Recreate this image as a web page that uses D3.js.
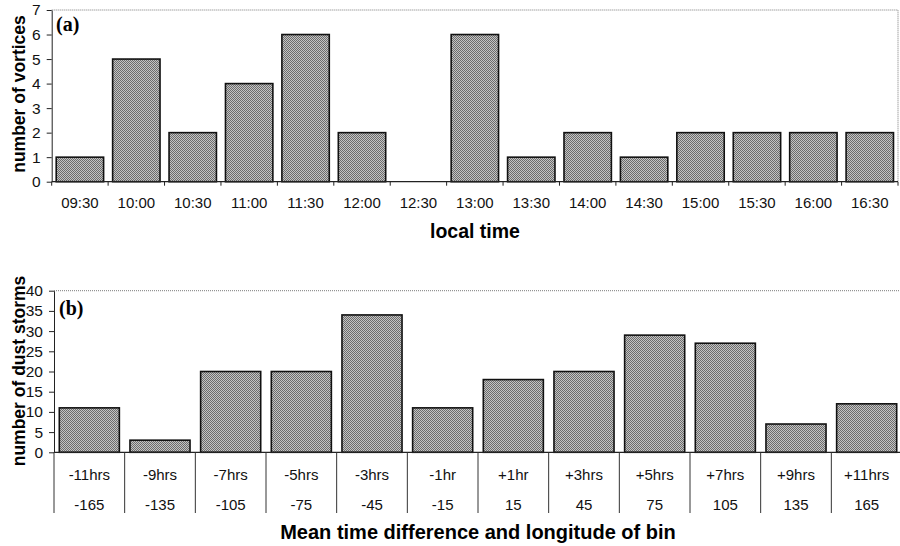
<!DOCTYPE html>
<html>
<head>
<meta charset="utf-8">
<script src="https://cdn.jsdelivr.net/npm/d3@7"></script>
<style>
  body { margin: 0; background: #ffffff; }
  svg { display: block; }
</style>
</head>
<body>
<svg id="chart"></svg>
<script>
// Panel (a) data
const timeLabels = ["09:30", "10:00", "10:30", "11:00", "11:30", "12:00", "12:30", "13:00",
                    "13:30", "14:00", "14:30", "15:00", "15:30", "16:00", "16:30"];
const vortexCounts = [1, 5, 2, 4, 6, 2, 0, 6, 1, 2, 1, 2, 2, 2, 2];
const vortexTicks = [0, 1, 2, 3, 4, 5, 6, 7];

// Panel (b) data
const hourLabels = ["-11hrs", "-9hrs", "-7hrs", "-5hrs", "-3hrs", "-1hr",
                    "+1hr", "+3hrs", "+5hrs", "+7hrs", "+9hrs", "+11hrs"];
const lonLabels = ["-165", "-135", "-105", "-75", "-45", "-15", "15", "45", "75", "105", "135", "165"];
const stormCounts = [11, 3, 20, 20, 34, 11, 18, 20, 29, 27, 7, 12];
const stormTicks = [0, 5, 10, 15, 20, 25, 30, 35, 40];

const W = 900, H = 546;
const sans = "'Liberation Sans', Arial, sans-serif";
const serif = "'Liberation Serif', 'Times New Roman', serif";

const svg = d3.select("#chart")
  .attr("width", W)
  .attr("height", H);

// halftone-ish grey fill like the scanned bars
const defs = svg.append("defs");
const pat = defs.append("pattern")
  .attr("id", "dither")
  .attr("patternUnits", "userSpaceOnUse")
  .attr("width", 2)
  .attr("height", 2);
pat.append("rect").attr("width", 2).attr("height", 2).attr("fill", "#c4c4c4");
pat.append("rect").attr("x", 0).attr("y", 0).attr("width", 1).attr("height", 1).attr("fill", "#6c6c6c");
pat.append("rect").attr("x", 1).attr("y", 1).attr("width", 1).attr("height", 1).attr("fill", "#6c6c6c");

function drawPanel(opt) {
  const x = d3.scaleBand()
    .domain(opt.labels)
    .range([opt.left, opt.right])
    .paddingInner(opt.pad)
    .paddingOuter(opt.pad / 2);

  const y = d3.scaleLinear()
    .domain([0, opt.max])
    .range([opt.bottom, opt.top]);

  const g = svg.append("g");

  // plot area border (top + right), dotted grey
  g.append("path")
    .attr("d", `M${opt.left},${opt.top}H${opt.right}V${opt.bottom}`)
    .attr("fill", "none")
    .attr("stroke", "#7a7a7a")
    .attr("stroke-width", 1)
    .attr("stroke-dasharray", "1,1");

  // bars
  g.selectAll(".bar")
    .data(opt.values)
    .join("rect")
      .attr("class", "bar")
      .attr("x", (d, i) => x(opt.labels[i]))
      .attr("width", x.bandwidth())
      .attr("y", d => y(d))
      .attr("height", d => y(0) - y(d))
      .attr("fill", "url(#dither)")
      .attr("stroke", d => d > 0 ? "#111" : "none")
      .attr("stroke-width", 1.6);

  // y axis
  const yAxis = g.append("g")
    .attr("transform", `translate(${opt.left},0)`)
    .call(d3.axisLeft(y)
      .tickValues(opt.ticks)
      .tickFormat(d3.format("d"))
      .tickSize(5).tickPadding(6).tickSizeOuter(0));
  yAxis.select(".domain").attr("stroke", "#222");
  yAxis.selectAll("line").attr("stroke", "#222");
  yAxis.selectAll("text")
    .attr("font-family", sans)
    .attr("font-size", 15.5)
    .attr("fill", "#111");

  // x axis baseline
  g.append("line")
    .attr("x1", opt.left).attr("x2", opt.right)
    .attr("y1", y(0)).attr("y2", y(0))
    .attr("stroke", "#222")
    .attr("stroke-width", 1.2);

  const half = x.step() * x.paddingInner() / 2;
  const bounds = opt.labels.map(d => x(d) - half).concat([opt.right]);

  return { g, x, y, bounds };
}

// ---------- panel (a)
const a = drawPanel({
  labels: timeLabels, values: vortexCounts, ticks: vortexTicks, max: 7,
  left: 51.7, right: 898, top: 10, bottom: 181.7, pad: 0.16
});

a.g.selectAll(".xtick")
  .data(a.bounds)
  .join("line")
    .attr("class", "xtick")
    .attr("x1", d => d).attr("x2", d => d)
    .attr("y1", a.y(0)).attr("y2", a.y(0) + 4)
    .attr("stroke", "#222");

a.g.selectAll(".xlab")
  .data(timeLabels)
  .join("text")
    .attr("class", "xlab")
    .attr("x", d => a.x(d) + a.x.bandwidth() / 2)
    .attr("y", 208)
    .attr("text-anchor", "middle")
    .attr("font-family", sans)
    .attr("font-size", 15)
    .attr("fill", "#111")
    .text(d => d);

a.g.append("text")
  .attr("x", 475).attr("y", 238)
  .attr("text-anchor", "middle")
  .attr("font-family", sans)
  .attr("font-weight", "bold")
  .attr("font-size", 19.5)
  .text("local time");

a.g.append("text")
  .attr("transform", "translate(25,94) rotate(-90)")
  .attr("text-anchor", "middle")
  .attr("font-family", sans)
  .attr("font-weight", "bold")
  .attr("font-size", 17.5)
  .text("number of vortices");

a.g.append("text")
  .attr("x", 56).attr("y", 31)
  .attr("font-family", serif)
  .attr("font-weight", "bold")
  .attr("font-size", 20)
  .text("(a)");

// ---------- panel (b)
const b = drawPanel({
  labels: hourLabels, values: stormCounts, ticks: stormTicks, max: 40,
  left: 54, right: 902, top: 290.7, bottom: 452.3, pad: 0.15
});

b.g.selectAll(".sep")
  .data(b.bounds)
  .join("line")
    .attr("class", "sep")
    .attr("x1", d => d).attr("x2", d => d)
    .attr("y1", b.y(0)).attr("y2", 513)
    .attr("stroke", "#333")
    .attr("stroke-width", 1);

b.g.selectAll(".hlab")
  .data(hourLabels)
  .join("text")
    .attr("class", "hlab")
    .attr("x", d => b.x(d) + b.x.bandwidth() / 2)
    .attr("y", 480)
    .attr("text-anchor", "middle")
    .attr("font-family", sans)
    .attr("font-size", 15)
    .attr("fill", "#111")
    .text(d => d);

b.g.selectAll(".llab")
  .data(lonLabels)
  .join("text")
    .attr("class", "llab")
    .attr("x", (d, i) => b.x(hourLabels[i]) + b.x.bandwidth() / 2)
    .attr("y", 510)
    .attr("text-anchor", "middle")
    .attr("font-family", sans)
    .attr("font-size", 15)
    .attr("fill", "#111")
    .text(d => d);

b.g.append("text")
  .attr("x", 478).attr("y", 539)
  .attr("text-anchor", "middle")
  .attr("font-family", sans)
  .attr("font-weight", "bold")
  .attr("font-size", 20)
  .text("Mean time difference and longitude of bin");

b.g.append("text")
  .attr("transform", "translate(25,371) rotate(-90)")
  .attr("text-anchor", "middle")
  .attr("font-family", sans)
  .attr("font-weight", "bold")
  .attr("font-size", 17.5)
  .text("number of dust storms");

b.g.append("text")
  .attr("x", 59).attr("y", 315)
  .attr("font-family", serif)
  .attr("font-weight", "bold")
  .attr("font-size", 20)
  .text("(b)");
</script>
</body>
</html>
